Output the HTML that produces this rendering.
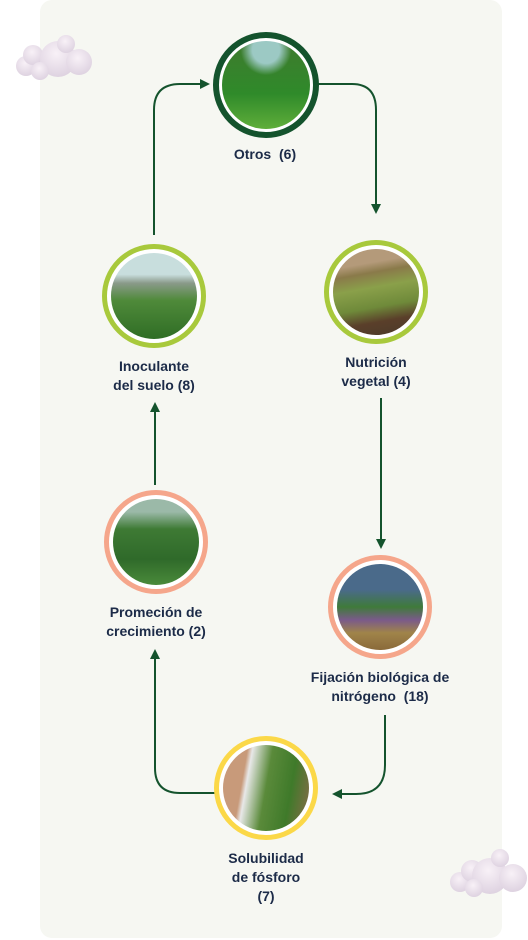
<!DOCTYPE html>
<html><head><meta charset="utf-8"><style>
body{margin:0;width:528px;height:940px;background:#fff;position:relative;overflow:hidden;font-family:"Liberation Sans",sans-serif}
.panel{position:absolute;left:40px;top:0;width:462px;height:938px;background:#f6f7f2;border-radius:12px}
.node{position:absolute;border-radius:50%;box-sizing:border-box;background:#fff}
.img{position:absolute;border-radius:50%;overflow:hidden}
.lbl{position:absolute;text-align:center;font-weight:bold;font-size:14px;line-height:19px;color:#1c2b48;width:200px}
</style></head><body>
<div class="panel"></div>
<svg width="528" height="940" style="position:absolute;left:0;top:0">
<defs><marker id="ah" markerWidth="10" markerHeight="10" refX="7" refY="5" orient="auto" markerUnits="userSpaceOnUse"><path d="M0,0 L10,5 L0,10z" fill="#14532d"/></marker>
<radialGradient id="cg" cx="45%" cy="35%" r="70%"><stop offset="0" stop-color="#f8f1f7"/><stop offset="1" stop-color="#dcd0df"/></radialGradient></defs>
<g fill="none" stroke="#14532d" stroke-width="2">
<path d="M154,235 V110 Q154,84 180,84 H207" marker-end="url(#ah)"/>
<path d="M318,84 H352 Q376,84 376,110 V211" marker-end="url(#ah)"/>
<path d="M381,398 V546" marker-end="url(#ah)"/>
<path d="M385,715 V765 Q385,794 356,794 H335" marker-end="url(#ah)"/>
<path d="M215,793 H180 Q155,793 155,768 V652" marker-end="url(#ah)"/>
<path d="M155,485 V405" marker-end="url(#ah)"/>
</g>
<g fill="url(#cg)">
<circle cx="26" cy="66" r="10"/><circle cx="33" cy="55" r="10"/><circle cx="58" cy="59" r="18"/><circle cx="79" cy="62" r="13"/><circle cx="40" cy="71" r="9"/><circle cx="66" cy="44" r="9"/></g>
<g fill="url(#cg)">
<circle cx="460" cy="882" r="10"/><circle cx="472" cy="871" r="11"/><circle cx="490" cy="876" r="18"/><circle cx="513" cy="878" r="14"/><circle cx="474" cy="888" r="9"/><circle cx="500" cy="858" r="9"/></g>
</svg>

<div class="node" style="left:213px;top:32px;width:106px;height:106px;border:6px solid #14532d"></div>
<div class="img" style="left:222px;top:41px;width:88px;height:88px;background:radial-gradient(circle at 50% 10%,#9cc9c4 0 15%,transparent 28%),linear-gradient(#3f7a2e,#2f8a2a 60%,#5fae3a)"></div>
<div class="lbl" style="left:165px;top:145px">Otros&nbsp; (6)</div>

<div class="node" style="left:102px;top:244px;width:104px;height:104px;border:5px solid #a8c93c"></div>
<div class="img" style="left:111px;top:253px;width:86px;height:86px;background:linear-gradient(#c8dedd 0 25%,#8a9a8a 35%,#4f8a3a 55%,#2f6d25)"></div>
<div class="lbl" style="left:54px;top:357px">Inoculante<br>del suelo (8)</div>

<div class="node" style="left:324px;top:240px;width:104px;height:104px;border:5px solid #a8c93c"></div>
<div class="img" style="left:333px;top:249px;width:86px;height:86px;background:linear-gradient(170deg,#b49a7a 0 20%,#8a7a4a 30%,#8aa04a 45%,#6f8a3a 65%,#5a3f2a 80%,#4a3a2a)"></div>
<div class="lbl" style="left:276px;top:353px">Nutrición<br>vegetal (4)</div>

<div class="node" style="left:104px;top:490px;width:104px;height:104px;border:5px solid #f5a68b"></div>
<div class="img" style="left:113px;top:499px;width:86px;height:86px;background:linear-gradient(#9bb9a8 0 15%,#3e7a34 35%,#2f6a2a 70%,#4a8a3a)"></div>
<div class="lbl" style="left:56px;top:603px">Promeción de<br>crecimiento (2)</div>

<div class="node" style="left:328px;top:555px;width:104px;height:104px;border:5px solid #f5a68b"></div>
<div class="img" style="left:337px;top:564px;width:86px;height:86px;background:linear-gradient(#4a6a8a 0 30%,#3f7a3a 50%,#7a5a8a 65%,#a0844a 80%,#8a6a3a)"></div>
<div class="lbl" style="left:280px;top:668px">Fijación biológica de<br>nitrógeno&nbsp; (18)</div>

<div class="node" style="left:214px;top:736px;width:104px;height:104px;border:5px solid #fbd848"></div>
<div class="img" style="left:223px;top:745px;width:86px;height:86px;background:linear-gradient(100deg,#c89a7a 0 25%,#e8e8e8 30%,#5a8a3a 50%,#3f7a2a 75%,#8a6a4a)"></div>
<div class="lbl" style="left:166px;top:849px">Solubilidad<br>de fósforo<br>(7)</div>
</body></html>
